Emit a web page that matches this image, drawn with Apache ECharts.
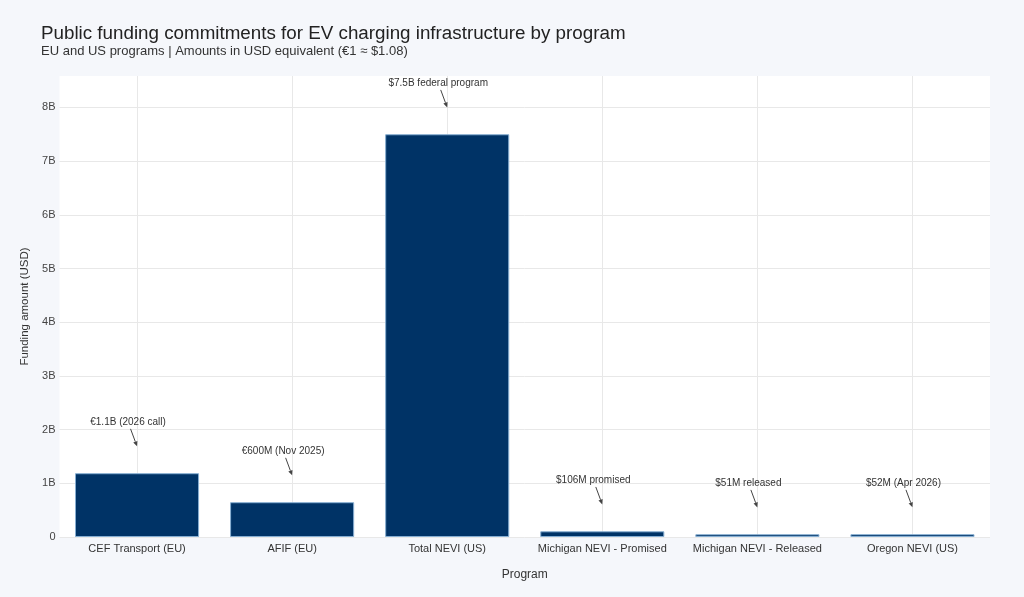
<!DOCTYPE html>
<html>
<head>
    <meta charset="utf-8">
    <title>EV charging funding</title>
    <script src="https://cdn.jsdelivr.net/npm/echarts@6/dist/echarts.min.js"></script>
    <style>
        html, body { margin: 0; padding: 0; background: #f5f7fb; }
        #chart { width: 1024px; height: 597px; }
    </style>
</head>
<body>
    <div id="chart"></div>
    <script>
        // data
        const programs = ['CEF Transport (EU)', 'AFIF (EU)', 'Total NEVI (US)',
            'Michigan NEVI - Promised', 'Michigan NEVI - Released', 'Oregon NEVI (US)'];
        const fundingUSD = [1.188e9, 0.648e9, 7.5e9, 0.106e9, 0.051e9, 0.052e9];
        const notes = ['€1.1B (2026 call)', '€600M (Nov 2025)', '$7.5B federal program',
            '$106M promised', '$51M released', '$52M (Apr 2026)'];
        const yTicks = ['0', '1B', '2B', '3B', '4B', '5B', '6B', '7B', '8B'];

        const font = '"Liberation Sans", Arial, sans-serif';
        const noteOffset = 0.5e9; // arrow tips sit a bit above each bar

        const chart = echarts.init(document.getElementById('chart'));
        chart.setOption({
            backgroundColor: '#f5f7fb',
            textStyle: { fontFamily: font },
            title: [
                { text: 'Public funding commitments for EV charging infrastructure by program',
                  left: 36, top: 19, textStyle: { fontSize: 18.8, fontWeight: 'normal', color: '#222', fontFamily: font } },
                { text: 'EU and US programs | Amounts in USD equivalent (€1 ≈ $1.08)',
                  left: 36, top: 40, textStyle: { fontSize: 13, fontWeight: 'normal', color: '#333', fontFamily: font } }
            ],
            grid: {
                left: 59.5, right: 34, top: 76, bottom: 60,
                show: true, backgroundColor: '#ffffff', borderWidth: 0
            },
            xAxis: [{
                type: 'category',
                data: programs,
                name: 'Program',
                nameLocation: 'middle',
                nameGap: 32,
                nameTextStyle: { fontSize: 12, color: '#333' },
                axisLine: { show: false },
                axisTick: { show: false },
                axisLabel: { fontSize: 11, color: '#333', margin: 6, interval: 0 },
                splitLine: { show: false }
            }, {
                // hidden helper axis: vertical grid lines through category centres
                type: 'value',
                min: -0.5, max: 5.5,
                position: 'bottom',
                axisLine: { show: false },
                axisTick: { show: false },
                axisLabel: { show: false },
                splitLine: { show: true, showMinLine: false, showMaxLine: false, lineStyle: { color: '#e8e8e8', width: 1 } }
            }],
            yAxis: {
                type: 'value',
                min: 0,
                max: 8.585e9,
                interval: 1e9,
                name: 'Funding amount (USD)',
                nameLocation: 'middle',
                nameGap: 28,
                nameTextStyle: { fontSize: 11.5, color: '#333' },
                axisLine: { show: false },
                axisTick: { show: false },
                axisLabel: {
                    fontSize: 11, color: '#444', margin: 4, showMaxLabel: false,
                    formatter: v => yTicks[Math.round(v / 1e9)] || ''
                },
                splitLine: { show: true, showMaxLine: false, lineStyle: { color: '#e8e8e8', width: 1 } }
            },
            series: [{
                type: 'bar',
                data: fundingUSD,
                barCategoryGap: '20%',
                itemStyle: { color: '#003366', borderColor: '#86aed2', borderWidth: 1 },
                z: 2
            }, {
                type: 'custom',
                data: fundingUSD.map((v, i) => [i, v + noteOffset]),
                z: 3,
                silent: true,
                renderItem: function (params, api) {
                    const tip = api.coord([api.value(0), api.value(1)]);
                    const sx = tip[0] - 6.5, sy = tip[1] - 17.5;
                    const ang = Math.atan2(tip[1] - sy, tip[0] - sx);
                    const len = 5, half = 2.2;
                    const bx = tip[0] - len * Math.cos(ang), by = tip[1] - len * Math.sin(ang);
                    const px = -Math.sin(ang) * half, py = Math.cos(ang) * half;
                    return {
                        type: 'group',
                        children: [
                            { type: 'line', shape: { x1: sx, y1: sy, x2: bx, y2: by },
                              style: { stroke: '#444', lineWidth: 1 } },
                            { type: 'polygon', shape: { points: [[tip[0], tip[1]], [bx + px, by + py], [bx - px, by - py]] },
                              style: { fill: '#444' } },
                            { type: 'text', x: tip[0] - 9, y: tip[1] - 24,
                              style: { text: notes[params.dataIndex], fill: '#333', fontSize: 10,
                                       fontFamily: font, align: 'center', verticalAlign: 'middle' } }
                        ]
                    };
                }
            }]
        });
    </script>
</body>
</html>
